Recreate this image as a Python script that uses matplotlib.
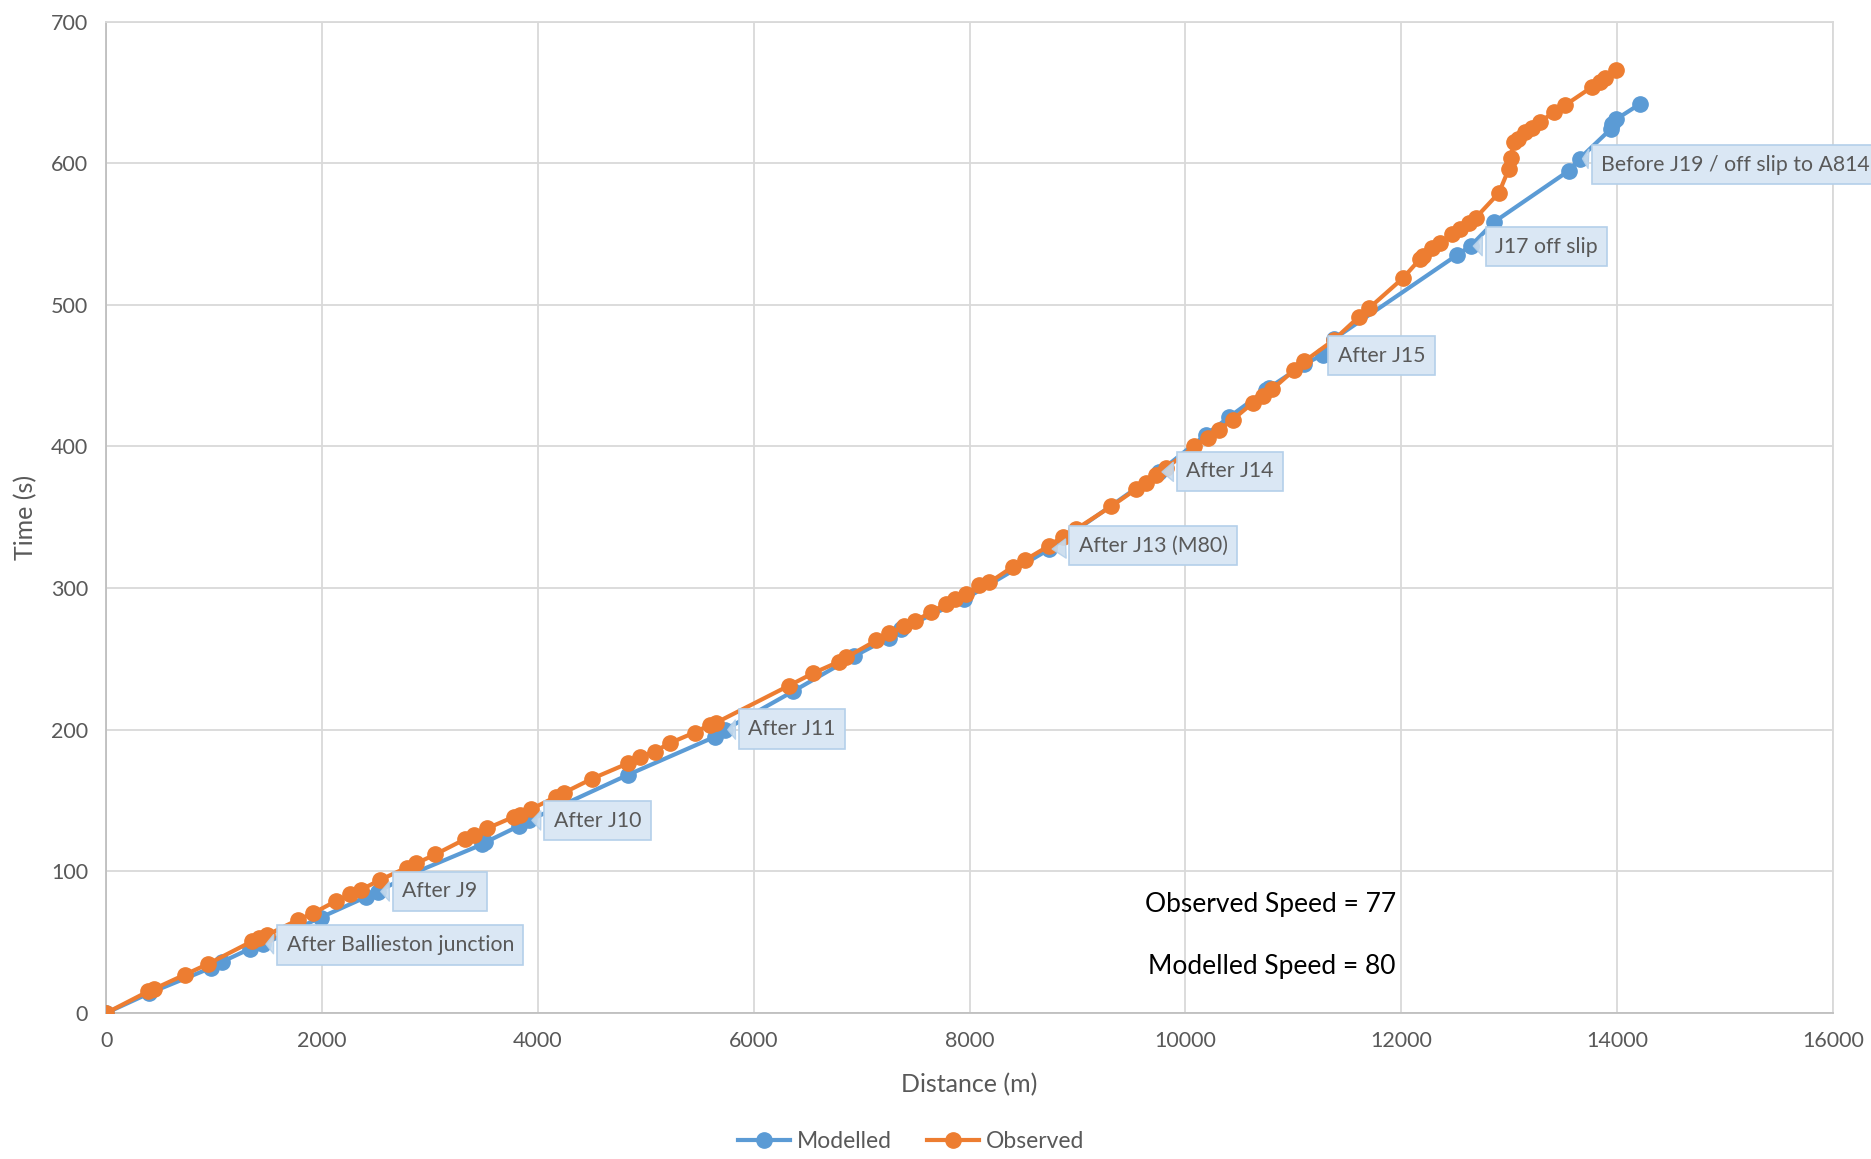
import matplotlib
matplotlib.use("Agg")
import matplotlib.pyplot as plt

plt.rcParams["font.family"] = ["Lato", "DejaVu Sans"]

# Modelled run (blue)
mod_dist = [0, 400, 975, 1071, 1330, 1454, 1986, 2411, 2518, 2837, 3482, 3510,
            3823, 3918, 4830, 5640, 5733, 6362, 6933, 7257, 7365, 7949, 8739,
            9757, 10189, 10405, 10745, 10776, 11100, 11270, 11378, 12513, 12641,
            12860, 13551, 13653, 13939, 13956, 13990, 14209]
mod_time = [0, 14, 32, 36, 45.3, 48.6, 67.4, 82, 85.7, 98.4, 119, 120.4,
            132, 136, 168, 195, 200, 227, 252, 265, 271, 292, 327.5,
            382, 408.3, 420.8, 439.8, 441.5, 458, 464.7, 476, 535, 541.5,
            558.5, 594.6, 603.3, 624, 627.6, 631, 641.7]

# Observed run (orange)
obs_dist = [0, 390, 443, 727, 940, 1348, 1418, 1489, 1773, 1915, 2128, 2262,
            2358, 2535, 2784, 2872, 3050, 3326, 3404, 3528, 3777, 3830, 3936,
            4167, 4238, 4504, 4835, 4943, 5081, 5220, 5451, 5590, 5652, 6323,
            6552, 6788, 6856, 7134, 7257, 7396, 7498, 7643, 7782, 7868, 7967,
            8091, 8183, 8399, 8517, 8739, 8862, 8986, 9310, 9541, 9634, 9727,
            9819, 10082, 10204, 10313, 10436, 10621, 10714, 10806, 11007, 11100,
            11378, 11609, 11702, 12017, 12169, 12202, 12287, 12354, 12472, 12540,
            12624, 12691, 12904, 12995, 13012, 13045, 13079, 13147, 13214, 13281,
            13416, 13518, 13771, 13838, 13889, 13990]
obs_time = [0, 15.3, 17, 27, 34.5, 50.5, 52.8, 55, 65.7, 70.4, 79, 83.8,
            86.9, 93.9, 102.6, 105.6, 112, 122.8, 126, 130.3, 138.5, 140, 143.9,
            152.6, 155.4, 165.5, 176.3, 180.6, 184.6, 190.5, 198, 203.4, 205, 231,
            240, 248, 251, 263, 268, 273, 277, 283, 289, 292, 296,
            302, 304, 315, 320, 330, 336.4, 341.6, 357.6, 369.8, 374.5, 380,
            384.7, 400, 405.8, 411.7, 418.8, 430.6, 435.3, 440.5, 454, 460,
            475.4, 491.7, 497.7, 519, 532, 534.4, 540.3, 543.9, 549.8, 553.3,
            558, 561.6, 579, 595.8, 604, 615, 617, 622, 625, 628.8,
            636.3, 641, 654, 657, 660, 666]

# callouts: text, point (on modelled line), text anchor
labels = ["After Ballieston junction", "After J9", "After J10", "After J11",
          "After J13 (M80)", "After J14", "After J15", "J17 off slip",
          "Before J19 / off slip to A814"]
label_pts = [(1454, 48.6), (2518, 85.7), (3918, 136), (5733, 200),
             (8739, 327.5), (9757, 382), (11378, 476), (12641, 541.5),
             (13653, 603.3)]
label_pos = [(1670, 48), (2742, 86), (4146, 135.6), (5949, 200.5),
             (9011, 330), (10007, 382.5), (11411, 464), (12870, 541),
             (13854, 599)]

BLUE = "#5b9bd5"
ORANGE = "#ed7d31"
GRID = "#d9d9d9"
TXT = "#595959"

fig = plt.figure(figsize=(18.71, 11.59), dpi=100)
ax = fig.add_axes([0.0568, 0.126, 0.9229, 0.8554])

ax.plot(mod_dist, mod_time, color=BLUE, lw=3, marker="o", ms=11,
        label="Modelled", zorder=3)
ax.plot(obs_dist, obs_time, color=ORANGE, lw=3, marker="o", ms=11,
        label="Observed", zorder=4)

for txt, pt, pos in zip(labels, label_pts, label_pos):
    ax.annotate(txt, xy=pt, xytext=pos, ha="left", va="center",
                fontsize=15.3, color=TXT, annotation_clip=False, zorder=5,
                bbox=dict(boxstyle="square,pad=0.45", fc="#dae7f4", ec="#b4d0ea",
                          lw=1.2),
                arrowprops=dict(arrowstyle="wedge,tail_width=0.9,shrink_factor=0.5",
                                fc="#c9dcee", ec="#b4d0ea", lw=1, alpha=0.9))

ax.text(10792, 76.7, "Observed Speed = 77", ha="center", va="center",
        fontsize=19, color="black")
ax.text(10803, 32.9, "Modelled Speed = 80", ha="center", va="center",
        fontsize=19, color="black")

ax.set_xlim(0, 16000)
ax.set_ylim(0, 700)
ax.set_xticks(range(0, 16001, 2000))
ax.set_yticks(range(0, 701, 100))
ax.grid(True, color=GRID, lw=1.3)
ax.set_axisbelow(True)
for s in ax.spines.values():
    s.set_color(GRID)
    s.set_linewidth(1.3)
ax.spines["bottom"].set_color("#bfbfbf")
ax.spines["left"].set_color("#bfbfbf")
ax.tick_params(length=0, labelsize=15.5, labelcolor=TXT, pad=13)
ax.set_xlabel("Distance (m)", fontsize=18, color=TXT, labelpad=16)
ax.set_ylabel("Time (s)", fontsize=18, color=TXT, labelpad=10)

fig.legend(loc="lower center", bbox_to_anchor=(0.487, -0.012), ncol=2,
           frameon=False, fontsize=16.5, labelcolor=TXT, handlelength=2.3,
           columnspacing=1.5, handletextpad=0.3)

fig.savefig("out.png", dpi=100)
